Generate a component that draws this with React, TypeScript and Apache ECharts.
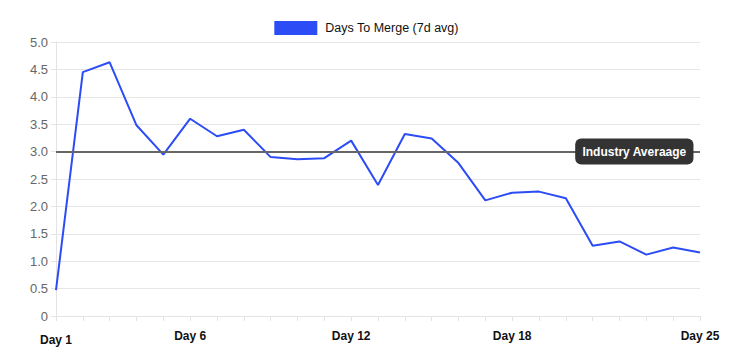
import React, { useEffect, useRef } from "react";
import * as echarts from "echarts";

const categories = [
  "Day 1", "Day 2", "Day 3", "Day 4", "Day 5", "Day 6", "Day 7", "Day 8", "Day 9", "Day 10",
  "Day 11", "Day 12", "Day 13", "Day 14", "Day 15", "Day 16", "Day 17", "Day 18", "Day 19", "Day 20",
  "Day 21", "Day 22", "Day 23", "Day 24", "Day 25",
];
const daysToMerge = [
  0.47, 4.45, 4.63, 3.48, 2.945, 3.6, 3.28, 3.4, 2.9, 2.86,
  2.88, 3.2, 2.39, 3.32, 3.24, 2.79, 2.11, 2.25, 2.27, 2.15,
  1.28, 1.36, 1.12, 1.25, 1.16,
];
const shownLabels = ["Day 1", "Day 6", "Day 12", "Day 18", "Day 25"];
const industryAverage = 3.0;
const industryLabel = "Industry Averaage";
const seriesName = "Days To Merge (7d avg)";

const FONT = "'Liberation Sans', Arial, Helvetica, sans-serif";

export default function App() {
  const ref = useRef<HTMLDivElement>(null);
  useEffect(() => {
    if (!ref.current) return;
    const chart = echarts.init(ref.current, undefined, { renderer: "svg" });
    chart.setOption({
      animation: false,
      textStyle: { fontFamily: FONT },
      legend: {
        top: 16,
        left: "center",
        icon: "rect",
        itemWidth: 43,
        itemHeight: 14,
        itemGap: 10,
        textStyle: { fontFamily: FONT, fontSize: 12.5, color: "#111", padding: [0, 0, 0, 3] },
        data: [{ name: seriesName, itemStyle: { color: "#2c4cf5" } }],
      },
      grid: { left: 56, right: 33, top: 42, bottom: 45, containLabel: false },
      xAxis: {
        type: "category",
        data: categories,
        boundaryGap: false,
        axisLine: { show: true, lineStyle: { color: "#e3e3e3", width: 1 } },
        axisTick: { show: true, interval: 0, length: 5, lineStyle: { color: "#e3e3e3" } },
        splitLine: { show: false },
        axisLabel: {
          interval: (i: number, v: string) => shownLabels.includes(v),
          margin: 14,
          fontFamily: FONT,
          fontSize: 12,
          fontWeight: "bold",
          color: "#111",
          formatter: (v: string) => (v === "Day 1" ? "{low|" + v + "}" : v),
          rich: {
            low: { fontFamily: FONT, fontSize: 12, fontWeight: "bold", color: "#111", padding: [4, 0, 0, 0] },
          },
        },
      },
      yAxis: {
        type: "value",
        min: 0,
        max: 5,
        interval: 0.5,
        axisLine: { show: true, lineStyle: { color: "#e3e3e3", width: 1 } },
        axisTick: { show: true, length: 5, lineStyle: { color: "#e3e3e3" } },
        splitLine: { show: true, lineStyle: { color: "#e6e6e6", width: 1 } },
        axisLabel: {
          margin: 8,
          fontFamily: FONT,
          fontSize: 13,
          color: "#666",
          formatter: (v: number) => (v === 0 ? "0" : v.toFixed(1)),
        },
      },
      series: [
        {
          name: seriesName,
          type: "line",
          data: daysToMerge,
          showSymbol: false,
          symbol: "none",
          lineStyle: { color: "#2c4cf5", width: 2 },
          itemStyle: { color: "#2c4cf5" },
          markLine: {
            silent: true,
            symbol: ["none", "none"],
            label: { show: false },
            lineStyle: { color: "#666", width: 2, type: "solid" },
            data: [{ yAxis: industryAverage }],
          },
          markPoint: {
            silent: true,
            symbol: "circle",
            symbolSize: 0,
            data: [{ coord: ["Day 23", industryAverage], value: industryLabel }],
            label: {
              show: true,
              position: "inside",
              offset: [-12, 0],
              formatter: industryLabel,
              backgroundColor: "#333",
              borderRadius: 6,
              padding: [7, 7],
              color: "#fff",
              fontFamily: FONT,
              fontSize: 12,
              fontWeight: "bold",
            },
          },
        },
      ],
    });
    return () => chart.dispose();
  }, []);
  return (
    <div
      ref={ref}
      style={{ position: "absolute", left: 0, top: 0, width: 733, height: 361 }}
    />
  );
}
